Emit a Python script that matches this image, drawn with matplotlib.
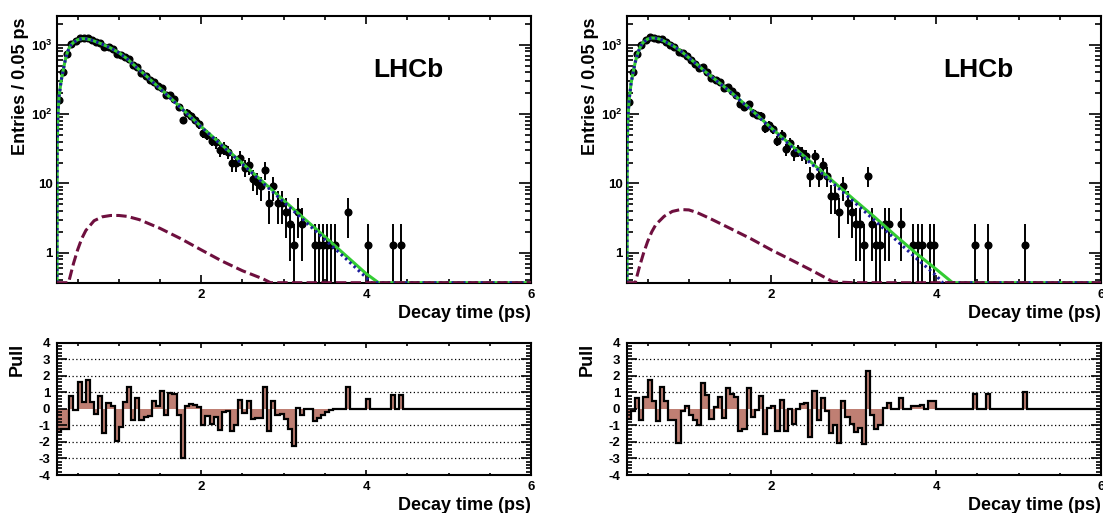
import numpy as np
import matplotlib
matplotlib.use("Agg")
import matplotlib.pyplot as plt
from matplotlib.ticker import (FixedLocator, FixedFormatter, MultipleLocator,
                               LogLocator, NullFormatter)

plt.rcParams["font.family"] = ["Liberation Sans", "DejaVu Sans"]
plt.rcParams["font.weight"] = "bold"
plt.rcParams["mathtext.fontset"] = "custom"
plt.rcParams["mathtext.rm"] = "Liberation Sans:bold"
plt.rcParams["mathtext.bf"] = "Liberation Sans:bold"
plt.rcParams["mathtext.default"] = "bf"
plt.rcParams["axes.unicode_minus"] = False

# binning of the decay-time histograms
T_LO, T_HI = 0.25, 6.0
BIN_W = 0.05
N_BINS = 115
WEIGHT = 1.3          # per-candidate weight (one entry shows as ~1.3)
YMIN, YMAX = 0.37, 2600.0

# ---- left dataset: entries per 0.05 ps bin, first bin starts at 0.25 ps
left_entries = [
    122, 309, 567, 799, 871, 975, 955, 976, 900, 838, 827, 722, 725, 671, 567,
    539, 521, 487, 390, 370, 304, 270, 239, 225, 195, 185, 146, 143, 127, 99,
    63, 81, 73, 64, 55,
    41, 39, 32, 30, 23, 25, 22, 15, 15, 18, 13, 14, 9, 8, 7, 12, 4, 7, 4, 4,
    3, 2, 1, 3, 2,
    0, 0, 1, 1, 1, 1, 1, 1, 0, 0, 3, 0, 0, 0, 0, 1, 0, 0, 0, 0, 0, 1, 0, 1,
]
left_pull = [
    -1.4, -1.2, -1.2, 0.8, -0.05, 1.6, 0.4, 1.75, 0.4, -0.3, 0.8, -1.45, 0.35,
    0.2, -1.95, -1.1, 0.4, 1.35, -0.7, 0.65, -0.65, -0.5, -0.45, 0.45, 0.2,
    1.05, -0.35, 0.95, 0.9, -0.35, -2.95, 0.15, 0.3, 0.25, 0.1,
    -1.0, -0.45, -0.9, -0.5, -1.3, -0.2, -0.1, -1.35, -0.95, 0.55, -0.25, 0.5,
    -0.6, -0.55, -0.55, 1.3, -1.35, 0.45, -0.35, -0.3, -0.6, -1.2, -2.25,
    0.05, -0.35,
    0, 0, -0.75, -0.55, -0.4, -0.2, -0.05, 0, 0, 0, 1.3, 0, 0, 0, 0, 0.6, 0,
    0, 0, 0, 0, 0.85, 0, 0.85,
]
left_total_t = [0.25, 0.252, 0.26, 0.275, 0.30, 0.325, 0.35, 0.375, 0.40,
                0.425, 0.45, 0.50, 0.55, 0.60, 0.65, 0.70, 0.80, 0.90, 1.00,
                1.10, 1.20, 1.30, 1.40, 1.50, 1.60, 1.75, 2.00, 2.25, 2.50,
                2.75, 3.00, 3.25, 3.50, 3.75, 4.00, 4.15, 4.25, 4.50, 5.00, 6.00]
left_total = [0.3, 30, 90, 180, 300, 430, 600, 775, 910, 1010, 1080, 1180,
              1225, 1220, 1185, 1135, 1020, 900, 770, 630, 490, 385, 300, 235,
              183, 125, 66, 36, 19.5, 10.5, 5.7, 3.1, 1.7, 0.92, 0.5, 0.37,
              0.29, 0.16, 0.05, 0.005]
left_signal_t = [0.25, 0.252, 0.26, 0.275, 0.30, 0.325, 0.35, 0.375, 0.40,
                 0.425, 0.45, 0.50, 0.55, 0.60, 0.65, 0.70, 0.80, 0.90, 1.00,
                 1.10, 1.20, 1.30, 1.40, 1.50, 1.60, 1.75, 2.00, 2.25, 2.50,
                 2.75, 3.00, 3.25, 3.50, 3.75, 4.00, 4.06, 4.25, 4.50, 5.00, 6.00]
left_signal = [0.3, 30, 90, 180, 300, 429, 599, 774, 909, 1009, 1079, 1179,
               1223, 1218, 1182, 1132, 1017, 897, 767, 627, 487, 382, 297, 232,
               181, 123, 65, 35.2, 18.9, 10.1, 5.4, 2.9, 1.55, 0.83, 0.44,
               0.37, 0.24, 0.13, 0.04, 0.004]
left_bkg_t = [0.25, 0.30, 0.35, 0.39, 0.45, 0.50, 0.55, 0.60, 0.70, 0.80,
              0.90, 1.00, 1.10, 1.25, 1.50, 1.75, 2.00, 2.25, 2.50, 2.75, 2.84,
              3.00, 3.50, 4.00, 5.00, 6.00]
left_bkg = [0.05, 0.1, 0.2, 0.37, 0.7, 1.1, 1.6, 2.1, 2.9, 3.3, 3.45, 3.45,
            3.35, 3.0, 2.25, 1.6, 1.1, 0.76, 0.55, 0.42, 0.37, 0.31, 0.17,
            0.09, 0.03, 0.01]

# ---- right dataset
right_entries = [
    115, 309, 569, 751, 905, 1004, 978, 921, 941, 857, 764, 703, 608, 593, 535,
    465, 409, 358, 364, 313, 258, 242, 226, 185, 189, 165, 145, 108, 96, 108,
    81, 75, 73, 48, 53,
    47, 32, 39, 24, 29, 21, 23, 21, 19, 10, 19, 10, 14, 10, 5, 5, 3, 7, 4, 3,
    2, 2, 1, 10, 2,
    1, 1, 2, 2, 0, 0, 2, 0, 0, 1, 1, 1, 0, 1, 1,
    0, 0, 0, 0, 0, 0, 0, 0, 0, 1, 0, 0, 1, 0, 0, 0, 0, 0, 0, 0, 0, 1,
]
right_pull = [
    -0.6, -0.15, 0.65, -0.65, 0.7, 1.75, 0.5, -0.75, 1.3, 0.5, -0.7, -0.7,
    -2.05, -0.15, 0.2, -0.4, -0.7, -1.0, 1.55, 0.85, -0.6, 0.1, 0.7, -0.55,
    1.25, 0.9, 0.7, -1.35, -1.2, 1.25, -0.5, -0.05, 0.75, -1.55, 0.05,
    0.2, -1.35, 0.55, -1.35, 0.0, -0.9, 0.0, 0.3, 0.35, -1.7, 1.05, -0.65,
    0.65, -0.1, -1.45, -1.0, -2.05, 0.5, -0.5, -0.9, -1.4, -1.15, -2.1, 2.3,
    -0.35,
    -1.2, -1.0, 0.05, 0.35, 0, 0, 0.65, 0, 0, 0.15, 0.2, 0.25, 0, 0.45, 0.5,
    0, 0, 0, 0, 0, 0, 0, 0, 0, 0.9, 0, 0, 0.9, 0, 0, 0, 0, 0, 0, 0, 0, 1.0,
]
right_total_t = [0.25, 0.252, 0.26, 0.275, 0.30, 0.325, 0.35, 0.375, 0.40,
                 0.425, 0.45, 0.50, 0.55, 0.60, 0.65, 0.70, 0.80, 0.90, 1.00,
                 1.10, 1.20, 1.30, 1.40, 1.50, 1.60, 1.75, 2.00, 2.25, 2.50,
                 2.75, 3.00, 3.25, 3.50, 3.75, 4.00, 4.20, 4.25, 4.50, 5.00, 6.00]
right_total = [0.3, 30, 80, 158, 280, 405, 560, 720, 870, 1000, 1090, 1210,
               1255, 1245, 1205, 1135, 980, 820, 650, 520, 410, 330, 265, 212,
               168, 118, 63, 35, 19.5, 10.7, 5.9, 3.3, 1.8, 1.0, 0.58, 0.37,
               0.34, 0.19, 0.06, 0.006]
right_signal_t = [0.25, 0.252, 0.26, 0.275, 0.30, 0.325, 0.35, 0.375, 0.40,
                  0.425, 0.45, 0.50, 0.55, 0.60, 0.65, 0.70, 0.80, 0.90, 1.00,
                  1.10, 1.20, 1.30, 1.40, 1.50, 1.60, 1.75, 2.00, 2.25, 2.50,
                  2.75, 3.00, 3.25, 3.50, 3.75, 4.00, 4.08, 4.25, 4.50, 5.00,
                  6.00]
right_signal = [0.3, 30, 80, 158, 280, 404, 559, 719, 869, 999, 1089, 1208,
                1253, 1242, 1202, 1131, 976, 816, 646, 516, 407, 327, 262, 210,
                166, 116, 62, 33.5, 18.6, 10.0, 5.45, 2.95, 1.58, 0.85, 0.47,
                0.37, 0.26, 0.14, 0.04, 0.004]
right_bkg_t = [0.25, 0.30, 0.35, 0.40, 0.45, 0.50, 0.55, 0.60, 0.70, 0.80,
               0.90, 1.00, 1.10, 1.25, 1.50, 1.75, 2.00, 2.25, 2.50, 2.75,
               3.00, 3.50, 4.00, 5.00, 6.00]
right_bkg = [0.05, 0.15, 0.37, 0.62, 0.98, 1.45, 2.0, 2.55, 3.35, 3.95, 4.2,
             4.15, 3.8, 3.15, 2.25, 1.6, 1.1, 0.78, 0.55, 0.38, 0.27, 0.14,
             0.07, 0.02, 0.005]

XTICKS = [2, 4, 6]
YTICKS = [1, 10, 100, 1000]
YTICK_LABELS = ["1", "10", r"$10^{2}$", r"$10^{3}$"]

C_TOTAL = "#33cc33"
C_SIGNAL = "#1c1c9c"
C_BKG = "#6e0f3e"
C_PULL = "#bf7f73"

W, H = 1103, 513
TITLE_SIZE = 13
TICK_SIZE = 9.5


def rect(x0, y_top, w, h):
    return [x0 / W, 1 - (y_top + h) / H, w / W, h / H]


def draw_main(ax, entries, total_t, total, sig_t, sig, bkg_t, bkg):
    n = np.asarray(entries, dtype=float)
    centers = T_LO + BIN_W * (np.arange(len(n)) + 0.5)
    keep = n > 0
    val = n[keep] * WEIGHT
    err = np.sqrt(n[keep]) * WEIGHT
    lo = np.maximum(val - err, 1e-3)
    ax.vlines(centers[keep], lo, val + err, color="black", lw=1.4, zorder=2)
    ax.plot(centers[keep], val, "o", color="black", ms=4.8, zorder=2)

    ax.plot(total_t, np.maximum(total, YMIN), color=C_TOTAL, lw=2.2,
            zorder=3)
    ax.plot(sig_t, np.maximum(sig, YMIN), color=C_SIGNAL, lw=2.2,
            ls=(0, (0.8, 1.1)), zorder=3.1)
    ax.plot(bkg_t, np.maximum(bkg, YMIN), color=C_BKG, lw=2.2,
            ls=(0, (3.4, 1.4)), zorder=3.2)

    ax.set_yscale("log")
    ax.set_xlim(T_LO, T_HI)
    ax.set_ylim(YMIN, YMAX)
    ax.xaxis.set_major_locator(FixedLocator(XTICKS))
    ax.xaxis.set_minor_locator(MultipleLocator(0.5))
    ax.yaxis.set_major_locator(FixedLocator(YTICKS))
    ax.yaxis.set_major_formatter(FixedFormatter(YTICK_LABELS))
    ax.yaxis.set_minor_locator(LogLocator(base=10, subs=np.arange(2, 10)))
    ax.yaxis.set_minor_formatter(NullFormatter())
    ax.tick_params(which="both", direction="in", top=True, right=True,
                   width=1.2, labelsize=TICK_SIZE)
    ax.tick_params(axis="x", which="major", length=5.8, pad=4.5)
    ax.tick_params(axis="x", which="minor", length=2.9)
    ax.tick_params(axis="y", which="major", length=8.6, pad=3)
    ax.tick_params(axis="y", which="minor", length=4.3)
    for sp in ax.spines.values():
        sp.set_linewidth(1.5)

    ax.text(-0.078, 0.995, "Entries / 0.05 ps", rotation=90, ha="center",
            va="top", fontsize=TITLE_SIZE, fontweight="bold",
            transform=ax.transAxes)
    ax.text(1.0, -0.114, "Decay time (ps)", ha="right", va="center",
            fontsize=TITLE_SIZE, fontweight="bold", transform=ax.transAxes)
    ax.text(0.667, 0.772, "LHCb", ha="left", va="baseline", fontsize=19,
            fontweight="bold", transform=ax.transAxes)


def draw_pull(ax, pull):
    p = np.zeros(N_BINS)
    p[:len(pull)] = pull
    edges = T_LO + BIN_W * np.arange(N_BINS + 1)
    for g in [-3, -2, -1, 1, 2, 3]:
        ax.axhline(g, color="black", lw=0.9, ls=(0, (1, 2)), zorder=0.5)
    ax.stairs(p, edges, baseline=0, fill=True, color=C_PULL, zorder=1)
    ax.stairs(p, edges, baseline=0, fill=False, color="black", lw=1.6,
              zorder=2)

    ax.set_xlim(T_LO, T_HI)
    ax.set_ylim(-4, 4)
    ax.xaxis.set_major_locator(FixedLocator(XTICKS))
    ax.xaxis.set_minor_locator(MultipleLocator(0.5))
    ax.yaxis.set_major_locator(MultipleLocator(1))
    ax.yaxis.set_minor_locator(MultipleLocator(0.2))
    ax.tick_params(which="both", direction="in", top=True, right=True,
                   width=1.2, labelsize=TICK_SIZE)
    ax.tick_params(axis="x", which="major", length=3.6, pad=4.5)
    ax.tick_params(axis="x", which="minor", length=1.8)
    ax.tick_params(axis="y", which="major", length=7, pad=5)
    ax.tick_params(axis="y", which="minor", length=3.5)
    for sp in ax.spines.values():
        sp.set_linewidth(1.5)

    ax.text(-0.083, 0.998, "Pull", rotation=90, ha="center", va="top",
            fontsize=TITLE_SIZE, fontweight="bold", transform=ax.transAxes)
    ax.text(1.0, -0.234, "Decay time (ps)", ha="right", va="center",
            fontsize=TITLE_SIZE, fontweight="bold", transform=ax.transAxes)


fig = plt.figure(figsize=(W / 100, H / 100), dpi=100)

ax_lm = fig.add_axes(rect(57, 16, 474, 266.7))
ax_lp = fig.add_axes(rect(57, 342.7, 474, 132.3))
ax_rm = fig.add_axes(rect(627, 16, 474, 266.7))
ax_rp = fig.add_axes(rect(627, 342.7, 474, 132.3))

draw_main(ax_lm, left_entries, left_total_t, left_total, left_signal_t,
          left_signal, left_bkg_t, left_bkg)
draw_pull(ax_lp, left_pull)
draw_main(ax_rm, right_entries, right_total_t, right_total, right_signal_t,
          right_signal, right_bkg_t, right_bkg)
draw_pull(ax_rp, right_pull)

fig.savefig("out.png", dpi=100)
